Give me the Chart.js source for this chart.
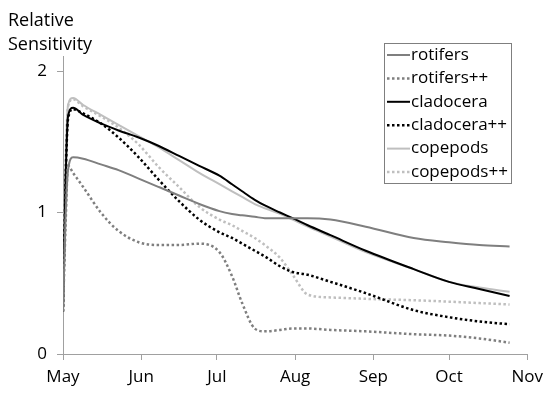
<!DOCTYPE html>
<html>
<head>
<meta charset="utf-8">
<script src="https://cdn.jsdelivr.net/npm/chart.js@4/dist/chart.umd.min.js"></script>
<style>
  html, body { margin: 0; padding: 0; background: #fff; }
  #wrap { width: 550px; height: 396px; }
</style>
</head>
<body>
<div id="wrap"><canvas id="sens"></canvas></div>
<script>
// days since 1 May
const days = [0, 1, 2, 4, 8, 15, 22, 30, 38, 46, 54, 62, 67, 71, 76, 80, 86, 91, 97, 106, 120, 139, 153, 165, 177]

const rotifers = [0.30, 0.95, 1.30, 1.39, 1.38, 1.34, 1.30, 1.24, 1.18, 1.12, 1.06, 1.01, 0.99, 0.98, 0.97, 0.96, 0.96, 0.96, 0.96, 0.95, 0.90, 0.82, 0.79, 0.77, 0.76]
const rotifersPP = [0.30, 0.90, 1.33, 1.28, 1.18, 1.00, 0.87, 0.79, 0.77, 0.77, 0.78, 0.72, 0.55, 0.36, 0.18, 0.16, 0.17, 0.18, 0.18, 0.17, 0.16, 0.14, 0.13, 0.11, 0.08]
const cladocera = [0.30, 1.20, 1.68, 1.74, 1.69, 1.63, 1.58, 1.53, 1.47, 1.40, 1.33, 1.26, 1.20, 1.15, 1.09, 1.05, 1.00, 0.96, 0.91, 0.84, 0.73, 0.60, 0.51, 0.46, 0.41]
const cladoceraPP = [0.30, 1.20, 1.66, 1.73, 1.70, 1.63, 1.53, 1.39, 1.23, 1.08, 0.95, 0.86, 0.82, 0.78, 0.73, 0.69, 0.62, 0.58, 0.56, 0.51, 0.43, 0.31, 0.26, 0.23, 0.21]
const copepods = [0.30, 1.30, 1.76, 1.81, 1.76, 1.69, 1.62, 1.54, 1.46, 1.37, 1.28, 1.20, 1.15, 1.11, 1.06, 1.03, 0.99, 0.95, 0.90, 0.83, 0.72, 0.60, 0.51, 0.47, 0.44]
const copepodsPP = [0.30, 1.30, 1.75, 1.80, 1.75, 1.68, 1.60, 1.48, 1.32, 1.18, 1.04, 0.95, 0.91, 0.87, 0.82, 0.77, 0.68, 0.56, 0.42, 0.40, 0.39, 0.38, 0.37, 0.36, 0.35]

const monthDays = [0, 31, 61, 92, 123, 153, 184]
const monthLabels = ['May', 'Jun', 'Jul', 'Aug', 'Sep', 'Oct', 'Nov']
const yTicks = [0, 1, 2]

const FONT = "'Open Sans', sans-serif"
const pts = vals => vals.map((v, i) => ({ x: days[i], y: v }))
const dot = [2.5, 2.5]

const series = (label, vals, color, dotted) => ({
  label: label,
  data: pts(vals),
  borderColor: color,
  borderWidth: dotted ? 2.5 : 2,
  borderDash: dotted ? dot : [],
  pointRadius: 0,
  cubicInterpolationMode: 'monotone',
  fill: false
})

// legend box drawn inside the plot, top right
const boxLegend = {
  id: 'boxLegend',
  afterDraw (chart) {
    const ctx = chart.ctx
    const x0 = 384, y0 = 43, w = 127, h = 140
    ctx.save()
    ctx.fillStyle = '#fff'
    ctx.fillRect(x0, y0, w, h)
    ctx.strokeStyle = '#7f7f7f'
    ctx.lineWidth = 1
    ctx.strokeRect(x0 + 0.5, y0 + 0.5, w, h)
    ctx.font = '17px ' + FONT
    ctx.textBaseline = 'middle'
    ctx.fillStyle = '#000'
    chart.data.datasets.forEach((ds, i) => {
      const y = 55 + i * 23.4
      ctx.beginPath()
      ctx.strokeStyle = ds.borderColor
      ctx.lineWidth = ds.borderWidth
      ctx.setLineDash(ds.borderDash)
      ctx.moveTo(387, y)
      ctx.lineTo(410, y)
      ctx.stroke()
      ctx.setLineDash([])
      ctx.fillText(ds.label, 411, y)
    })
    ctx.restore()
  }
}

const sensChart = new Chart(document.getElementById('sens'), {
  type: 'line',
  data: {
    datasets: [
      series('rotifers', rotifers, '#7f7f7f', false),
      series('rotifers++', rotifersPP, '#7f7f7f', true),
      series('cladocera', cladocera, '#000000', false),
      series('cladocera++', cladoceraPP, '#000000', true),
      series('copepods', copepods, '#bfbfbf', false),
      series('copepods++', copepodsPP, '#bfbfbf', true)
    ]
  },
  options: {
    responsive: true,
    maintainAspectRatio: false,
    animation: false,
    layout: { padding: { left: 8, right: 20, top: 0, bottom: 0 } },
    plugins: {
      legend: { display: false },
      tooltip: { enabled: false },
      title: {
        display: true,
        text: ['Relative', 'Sensitivity'],
        align: 'start',
        color: '#000',
        font: { family: FONT, size: 18, weight: 'normal', lineHeight: 1.33 },
        padding: { top: 9, bottom: 0 }
      }
    },
    scales: {
      x: {
        type: 'linear',
        min: 0,
        max: 184,
        afterBuildTicks: scale => { scale.ticks = monthDays.map(v => ({ value: v })) },
        afterFit: scale => { scale.height = 42 },
        ticks: {
          autoSkip: false,
          maxRotation: 0,
          padding: 7,
          color: '#000',
          font: { family: FONT, size: 17 },
          callback: (v, i) => monthLabels[i]
        },
        grid: { drawOnChartArea: false, tickLength: 6, color: '#a0a0a0' },
        border: { color: '#a0a0a0' }
      },
      y: {
        min: 0,
        max: 2.1,
        afterBuildTicks: scale => { scale.ticks = yTicks.map(v => ({ value: v })) },
        afterFit: scale => { scale.width = 55 },
        ticks: {
          padding: 10,
          color: '#000',
          font: { family: FONT, size: 17 }
        },
        grid: { drawOnChartArea: false, tickLength: 6, color: '#a0a0a0' },
        border: { color: '#a0a0a0' }
      }
    }
  },
  plugins: [boxLegend]
})
</script>
</body>
</html>
